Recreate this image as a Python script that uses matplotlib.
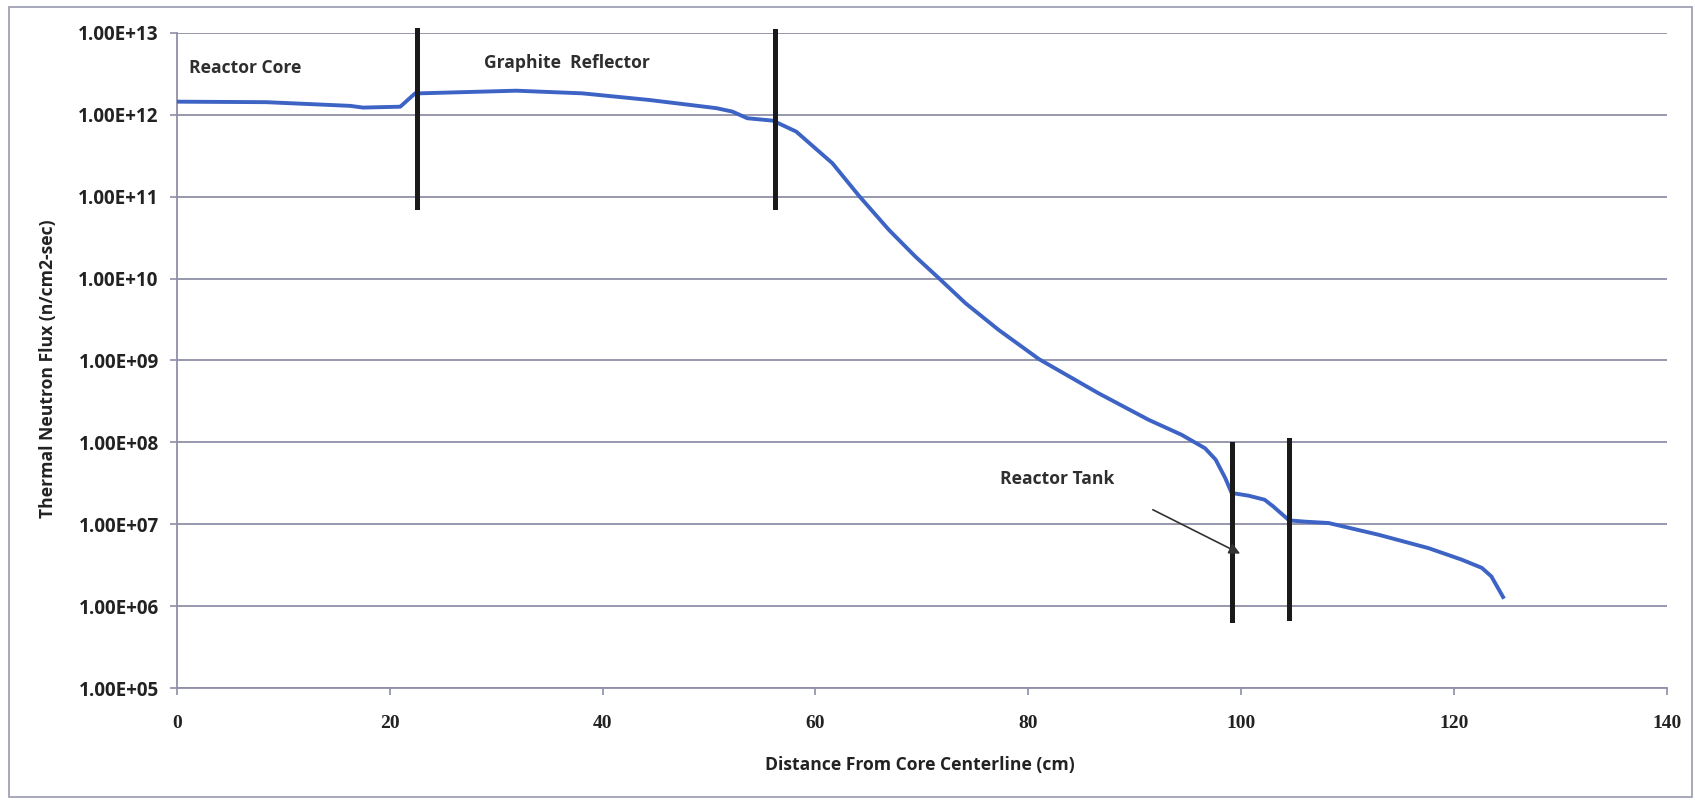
import matplotlib
matplotlib.use("Agg")
import matplotlib.pyplot as plt
from matplotlib.ticker import FixedLocator, FuncFormatter, NullLocator
from matplotlib.patches import Rectangle

# ---------------- data ----------------
distance_cm = [0, 8.4, 16.3, 17.5, 21.0, 22.4, 22.8, 31.9, 38.1, 44.4,
               50.7, 52.2, 53.6, 56.0, 58.2, 61.6, 64.1, 66.9, 69.4, 71.6,
               74.1, 77.2, 81.0, 86.6, 91.3, 94.4, 96.6, 97.6, 98.5, 99.1,
               100.7, 102.2, 103.0, 104.5, 106.0, 108.2, 112.9, 117.6, 120.7,
               122.6, 123.5, 124.6]
flux = [1.44e12, 1.42e12, 1.28e12, 1.22e12, 1.25e12, 1.82e12, 1.82e12, 1.96e12, 1.82e12, 1.51e12,
        1.20e12, 1.09e12, 9.04e11, 8.45e11, 6.21e11, 2.55e11, 1.02e11, 3.93e10, 1.85e10, 1.01e10,
        5.0e9, 2.37e9, 1.04e9, 3.98e8, 1.89e8, 1.24e8, 8.5e7, 6.17e7, 3.68e7, 2.42e7,
        2.24e7, 2.0e7, 1.66e7, 1.12e7, 1.08e7, 1.04e7, 7.48e6, 5.13e6, 3.72e6,
        2.95e6, 2.32e6, 1.30e6]

# region boundaries (vertical black bars)
boundary_x = [22.6, 56.2, 99.1, 104.5]
boundary_top = [1.07e13, 1.05e13, 9.7e7, 1.08e8]
boundary_bottom = [7.5e10, 7.4e10, 6.9e5, 7.2e5]

region_labels = ["Reactor Core", "Graphite  Reflector", "Reactor Tank"]
label_x = [1.15, 28.9, 77.3]
label_y = [3.7e12, 4.27e12, 3.6e7]

x_ticks = [0, 20, 40, 60, 80, 100, 120, 140]
y_ticks = [1e5, 1e6, 1e7, 1e8, 1e9, 1e10, 1e11, 1e12, 1e13]

# ---------------- plot ----------------
grid_col = "#8f8fa8"
sans = "Open Sans"
fig = plt.figure(figsize=(16.95, 8), dpi=100)
ax = fig.add_axes([176.7 / 1695, 1 - 688.3 / 800, (1667 - 176.7) / 1695, (688.3 - 32.7) / 800])

ax.set_yscale("log")
ax.set_xlim(0, 140)
ax.set_ylim(1e5, 1e13)

ax.plot(distance_cm, flux, color="#3d64c4", lw=2.8, solid_joinstyle="round", zorder=3)

for bx, bt, bb in zip(boundary_x, boundary_top, boundary_bottom):
    ax.plot([bx, bx], [bb, bt], color="#1a1a1a", lw=3.6, zorder=4, clip_on=False)

for txt, lx, ly in zip(region_labels, label_x, label_y):
    ax.text(lx, ly, txt, fontsize=12.6, family=sans, fontweight="bold", color="#2e2e2e",
            ha="left", va="center", zorder=5)

ax.annotate("", xy=(99.9, 4.4e6), xytext=(91.7, 1.51e7),
            arrowprops=dict(arrowstyle="-|>", color="#333333", lw=1.2,
                            mutation_scale=16, shrinkA=0, shrinkB=0), zorder=5)

# axes styling
ax.xaxis.set_major_locator(FixedLocator(x_ticks))
ax.yaxis.set_major_locator(FixedLocator(y_ticks))
ax.yaxis.set_minor_locator(NullLocator())
ax.yaxis.set_major_formatter(FuncFormatter(lambda v, p: f"{v:.2E}"))
ax.grid(True, axis="y", color=grid_col, lw=1.3)
ax.set_axisbelow(True)
for s in ["top", "right"]:
    ax.spines[s].set_visible(False)
for s in ["left", "bottom"]:
    ax.spines[s].set_color(grid_col)
    ax.spines[s].set_linewidth(1.3)
ax.tick_params(axis="both", direction="out", length=5, color=grid_col, width=1.2)
ax.tick_params(axis="y", pad=8)
ax.tick_params(axis="x", pad=14)

for lab in ax.get_yticklabels():
    lab.set_family(sans)
    lab.set_fontweight("bold")
    lab.set_fontsize(13.6)
    lab.set_color("#222222")
for lab in ax.get_xticklabels():
    lab.set_family("Liberation Serif")
    lab.set_fontweight("bold")
    lab.set_fontsize(14)
    lab.set_color("#222222")

fig.text(920 / 1695, 1 - 765 / 800, "Distance From Core Centerline (cm)",
         ha="center", va="center", fontsize=12.6, fontweight="bold", family=sans, color="#222222")
fig.text(48 / 1695, 1 - 369 / 800, "Thermal Neutron Flux (n/cm2-sec)",
         ha="center", va="center", rotation=90, fontsize=12.6, fontweight="bold", family=sans, color="#222222")

# outer chart frame
fig.patches.append(Rectangle((9 / 1695, 3 / 800), 1683 / 1695, 790 / 800, transform=fig.transFigure,
                             fill=False, edgecolor="#9a9ab0", lw=1.2))

fig.savefig("out.png", dpi=100)
